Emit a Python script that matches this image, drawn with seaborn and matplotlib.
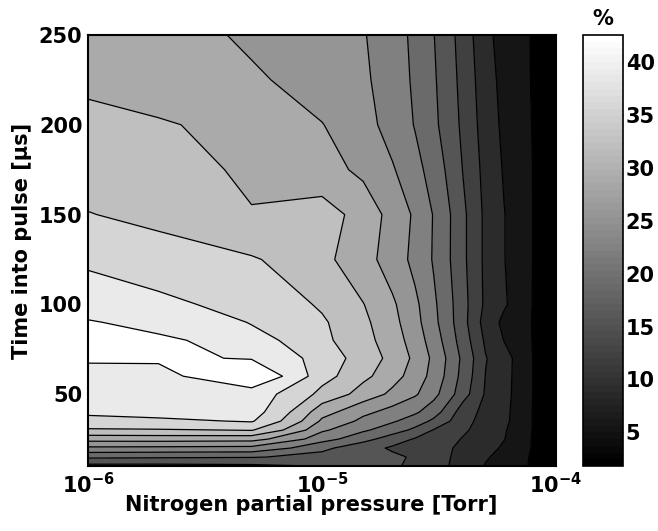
import numpy as np
import matplotlib
matplotlib.use('Agg')
import matplotlib.pyplot as plt
import seaborn as sns
from matplotlib import cm, colors as mcolors

# Nitrogen partial pressure [Torr] (columns) and time into pulse [us] (rows)
pressure = [1e-6, 2e-6, 5e-6, 1e-5, 1.5e-5, 2e-5, 2.5e-5, 3e-5, 4e-5, 5e-5, 6e-5, 8e-5, 1e-4]
time_us = [10, 15, 20, 25, 30, 35, 40, 50, 60, 70, 80, 90, 100, 125, 150, 175, 200, 225, 250]

# value in % (one row per time, one column per pressure)
percent = [
    [12.7, 12.7, 13.0, 13.9, 14.6, 14.0, 13.2, 11.7, 8.8, 6.7, 5.4, 3.0, 2.1],
    [17.7, 17.5, 17.3, 16.1, 15.4, 14.4, 13.2, 11.5, 9.3, 7.2, 5.9, 3.0, 2.1],
    [23.2, 23.1, 22.9, 17.8, 15.0, 13.2, 12.2, 11.3, 9.7, 8.0, 6.4, 3.2, 2.1],
    [28.6, 28.7, 28.5, 21.8, 18.2, 15.4, 13.4, 12.1, 10.1, 8.4, 7.0, 3.2, 2.1],
    [33.6, 33.8, 34.3, 24.4, 21.0, 18.6, 16.3, 13.5, 10.8, 8.8, 7.2, 3.3, 2.1],
    [36.8, 37.0, 37.8, 26.7, 23.0, 20.9, 18.8, 16.4, 11.3, 9.1, 7.6, 3.3, 2.1],
    [37.9, 38.4, 38.9, 28.5, 24.7, 22.6, 21.0, 18.6, 11.9, 9.3, 7.7, 3.3, 2.1],
    [39.0, 39.0, 39.2, 33.1, 29.2, 26.5, 24.3, 21.5, 15.1, 9.9, 7.9, 3.4, 2.1],
    [40.1, 40.2, 44.0, 35.3, 31.5, 28.6, 25.7, 22.7, 15.9, 10.2, 8.0, 3.4, 2.1],
    [41.2, 41.2, 40.7, 35.8, 32.6, 29.6, 26.5, 23.1, 16.3, 10.5, 8.1, 3.4, 2.1],
    [42.6, 41.5, 38.7, 34.8, 31.8, 28.9, 25.7, 22.2, 15.4, 9.7, 6.8, 3.3, 2.1],
    [41.1, 39.8, 37.3, 34.5, 31.4, 28.3, 25.0, 21.4, 14.8, 8.8, 6.1, 3.3, 2.1],
    [39.7, 38.2, 35.9, 33.7, 30.8, 27.8, 24.6, 21.1, 14.8, 9.6, 7.3, 3.3, 2.1],
    [36.8, 35.8, 34.4, 31.5, 28.5, 25.7, 22.9, 20.2, 14.4, 9.5, 7.0, 3.4, 2.1],
    [34.2, 33.1, 30.9, 32.4, 29.0, 26.2, 23.3, 20.3, 14.4, 9.5, 7.0, 3.4, 2.1],
    [32.8, 31.8, 30.0, 28.2, 26.7, 24.2, 21.6, 19.0, 13.6, 9.1, 6.6, 3.4, 2.1],
    [31.5, 31.0, 29.2, 27.4, 25.0, 22.6, 20.3, 17.8, 13.0, 8.6, 6.2, 3.3, 2.1],
    [30.1, 29.1, 27.7, 25.8, 24.4, 22.3, 19.9, 17.5, 12.6, 8.2, 5.9, 3.2, 2.0],
    [29.0, 28.2, 26.8, 25.1, 24.1, 22.1, 19.6, 17.2, 12.2, 7.7, 5.6, 3.2, 1.8],
]

# contour levels and colour range of the colour bar
levels = [3.5, 6.9, 10.3, 13.7, 17.1, 20.5, 23.9, 27.3, 30.7, 34.1, 37.5, 40.9]
cbar_min, cbar_max = 1.8, 42.6
cbar_ticks = [5, 10, 15, 20, 25, 30, 35, 40]

sns.set_style('white')
plt.rcParams['font.family'] = ['DejaVu Sans']
plt.rcParams['font.weight'] = 'bold'
plt.rcParams['text.color'] = 'black'
plt.rcParams['axes.labelcolor'] = 'black'
plt.rcParams['xtick.color'] = 'black'
plt.rcParams['ytick.color'] = 'black'
plt.rcParams['mathtext.fontset'] = 'custom'
plt.rcParams['mathtext.rm'] = 'DejaVu Sans:bold'
plt.rcParams['mathtext.it'] = 'DejaVu Sans:bold'
plt.rcParams['mathtext.bf'] = 'DejaVu Sans:bold'

P, T = np.meshgrid(pressure, time_us)
Z = np.array(percent)

fig = plt.figure(figsize=(6.58, 5.31), dpi=100)
ax = fig.add_axes([88 / 658, 1 - 466 / 531, 468 / 658, 431 / 531])
cax = fig.add_axes([583 / 658, 1 - 466 / 531, 40 / 658, 431 / 531])

n_bands = len(levels) + 1
band_colors = [(k / (n_bands - 1),) * 3 for k in range(n_bands)]
fill_levels = [-100] + levels + [100]
ax.contourf(P, T, Z, levels=fill_levels, colors=band_colors)
ax.contour(P, T, Z, levels=levels, colors='black', linewidths=0.9)

ax.set_xscale('log')
ax.set_xlim(1e-6, 1e-4)
ax.set_ylim(10, 250)
ax.set_xticks([1e-6, 1e-5, 1e-4])
ax.set_xticklabels([r'$10^{-6}$', r'$10^{-5}$', r'$10^{-4}$'])
ax.xaxis.set_minor_locator(matplotlib.ticker.NullLocator())
ax.set_yticks([50, 100, 150, 200, 250])
ax.tick_params(axis='both', length=0, labelsize=15, colors='black')
ax.tick_params(axis='x', pad=4)
ax.tick_params(axis='y', pad=4)
for sp in ax.spines.values():
    sp.set_linewidth(1.5)
    sp.set_color('black')

ax.set_xlabel('Nitrogen partial pressure [Torr]', fontsize=15, fontweight='bold')
ax.xaxis.set_label_coords(0.477, -0.068)
ax.set_ylabel('Time into pulse [\u00b5s]', fontsize=15, fontweight='bold')
ax.yaxis.set_label_coords(-0.12, 0.522)

sm = cm.ScalarMappable(norm=mcolors.Normalize(cbar_min, cbar_max), cmap=plt.get_cmap('gray', 64))
cb = fig.colorbar(sm, cax=cax)
cb.set_ticks(cbar_ticks)
cb.outline.set_linewidth(1.2)
cb.outline.set_edgecolor('black')
cax.tick_params(direction='in', length=3, left=True, right=True, labelsize=15, pad=2, colors='black')
cax.set_title('%', fontsize=15, fontweight='bold', pad=7)

fig.savefig('out.png', dpi=100)
